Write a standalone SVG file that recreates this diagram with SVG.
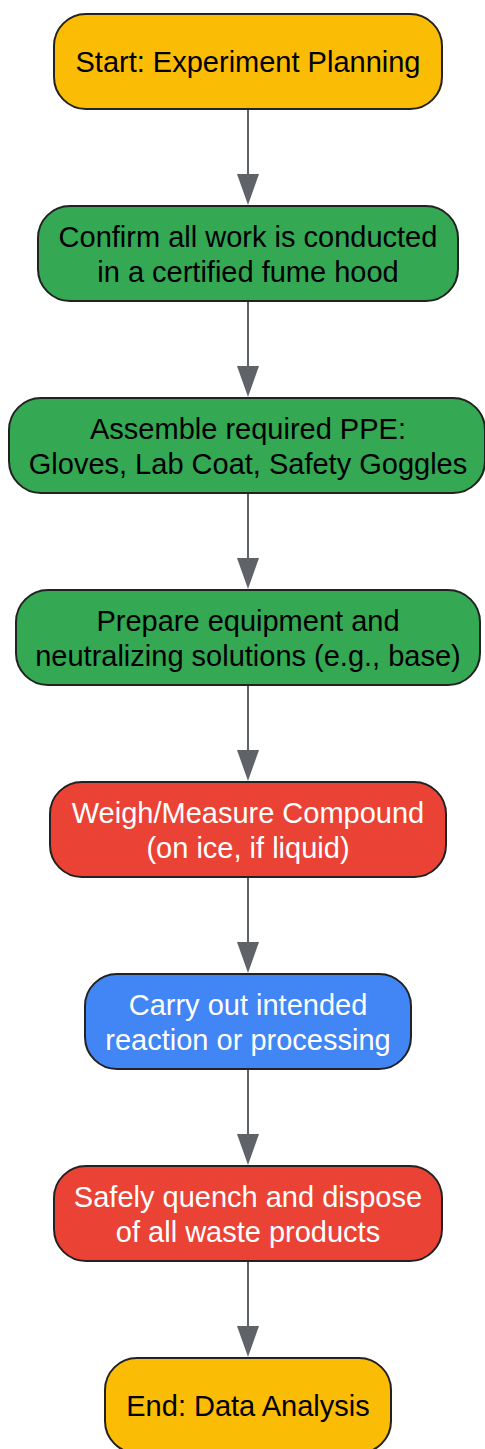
<svg xmlns="http://www.w3.org/2000/svg" width="485" height="1449" viewBox="0 0 485 1449">
<style>
.n{stroke:#222;stroke-width:2}
.y{fill:#FBBC05}.g{fill:#34A853}.r{fill:#EA4335}.b{fill:#4285F4}
text{font-family:"Liberation Sans",Arial,sans-serif;font-size:29px;text-anchor:middle;fill:#000}
.w{fill:#fff}
.e{stroke:#5f6368;stroke-width:2;fill:none}
.h{fill:#5f6368}
</style>
<defs>
<path id="ah" class="h" d="M-11,0 L11,0 L0,31 Z"/>
</defs>
<g id="edges">
<path class="e" d="M248,110 V176"/><use href="#ah" x="248" y="174"/>
<path class="e" d="M248,302 V368"/><use href="#ah" x="248" y="366"/>
<path class="e" d="M248,494 V560"/><use href="#ah" x="248" y="558"/>
<path class="e" d="M248,686 V752"/><use href="#ah" x="248" y="750"/>
<path class="e" d="M248,878 V944"/><use href="#ah" x="248" y="942"/>
<path class="e" d="M248,1070 V1136"/><use href="#ah" x="248" y="1134"/>
<path class="e" d="M248,1262 V1328"/><use href="#ah" x="248" y="1326"/>
</g>
<g id="start">
<rect class="n y" x="54" y="14" width="388" height="95" rx="32"/>
<text x="248" y="72">Start: Experiment Planning</text>
</g>
<g id="fumehood">
<rect class="n g" x="38" y="206" width="420" height="95" rx="32"/>
<text x="248" y="247">Confirm all work is conducted</text>
<text x="248" y="282">in a certified fume hood</text>
</g>
<g id="ppe">
<rect class="n g" x="9" y="398" width="476" height="95" rx="32"/>
<text x="248" y="439">Assemble required PPE:</text>
<text x="248" y="474">Gloves, Lab Coat, Safety Goggles</text>
</g>
<g id="prepare">
<rect class="n g" x="16" y="590" width="464" height="95" rx="32"/>
<text x="248" y="631">Prepare equipment and</text>
<text x="248" y="666">neutralizing solutions (e.g., base)</text>
</g>
<g id="weigh">
<rect class="n r" x="50" y="782" width="396" height="95" rx="32"/>
<text class="w" x="248" y="823">Weigh/Measure Compound</text>
<text class="w" x="248" y="858">(on ice, if liquid)</text>
</g>
<g id="reaction">
<rect class="n b" x="85" y="974" width="326" height="95" rx="32"/>
<text class="w" x="248" y="1015">Carry out intended</text>
<text class="w" x="248" y="1050">reaction or processing</text>
</g>
<g id="quench">
<rect class="n r" x="54" y="1166" width="388" height="95" rx="32"/>
<text class="w" x="248" y="1207">Safely quench and dispose</text>
<text class="w" x="248" y="1242">of all waste products</text>
</g>
<g id="end">
<rect class="n y" x="105" y="1358" width="286" height="95" rx="32"/>
<text x="248" y="1416">End: Data Analysis</text>
</g>
</svg>
